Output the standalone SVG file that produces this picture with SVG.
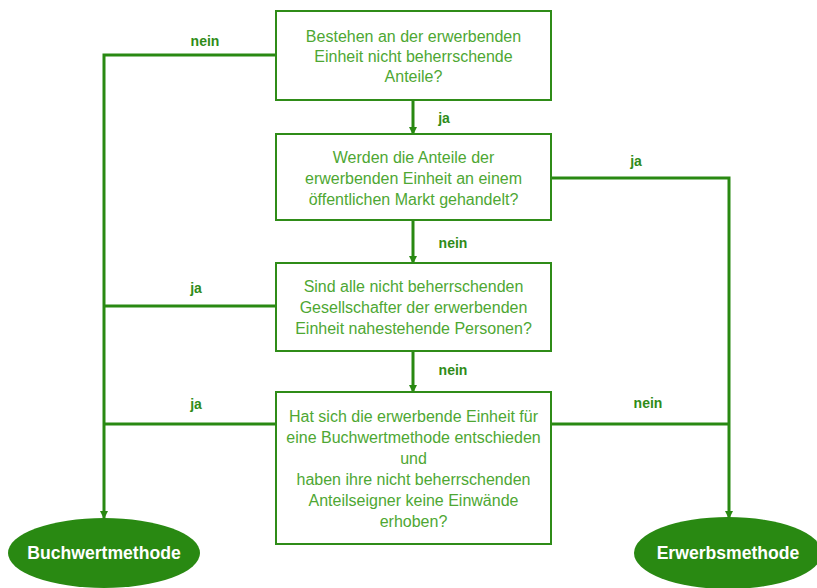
<svg xmlns="http://www.w3.org/2000/svg" width="817" height="588" viewBox="0 0 817 588">
<defs>
<style>
.box{fill:#fff;stroke:#2f8c18;stroke-width:2}
.q{font-family:"Liberation Sans",Arial,sans-serif;font-size:16px;fill:#4ea733;text-anchor:middle}
.lbl{font-family:"Liberation Sans",Arial,sans-serif;font-size:14px;font-weight:bold;fill:#2f8c18;text-anchor:middle}
.end{fill:#298912}
.et{font-family:"Liberation Sans",Arial,sans-serif;font-size:17.6px;font-weight:bold;fill:#fff;text-anchor:middle}
.c{fill:none;stroke:#298912;stroke-width:3}
</style>
<marker id="ah" viewBox="0 0 8 8" refX="7" refY="4" markerWidth="8" markerHeight="8" markerUnits="userSpaceOnUse" orient="auto">
<path d="M0,0 L8,4 L0,8 Z" fill="#298912"/>
</marker>
</defs>
<rect width="817" height="588" fill="#fff"/>
<g id="connectors">
<path class="c" d="M276,55 H104 V518" marker-end="url(#ah)"/>
<path class="c" d="M276,306 H104"/>
<path class="c" d="M276,424 H104"/>
<path class="c" d="M551,178 H729 V518" marker-end="url(#ah)"/>
<path class="c" d="M551,424 H729"/>
<path class="c" d="M413,100 V134" marker-end="url(#ah)"/>
<path class="c" d="M413,220 V263" marker-end="url(#ah)"/>
<path class="c" d="M413,351 V392" marker-end="url(#ah)"/>
<text class="lbl" x="205" y="46">nein</text>
<text class="lbl" x="444" y="123">ja</text>
<text class="lbl" x="636" y="166">ja</text>
<text class="lbl" x="453" y="248">nein</text>
<text class="lbl" x="196" y="293">ja</text>
<text class="lbl" x="453" y="375">nein</text>
<text class="lbl" x="196" y="409">ja</text>
<text class="lbl" x="648" y="408">nein</text>
</g>
<g id="q1">
<rect class="box" x="276" y="11" width="275" height="89"/>
<text class="q" x="413.5" y="42">Bestehen an der erwerbenden</text>
<text class="q" x="413.5" y="62">Einheit nicht beherrschende</text>
<text class="q" x="413.5" y="82">Anteile?</text>
</g>
<g id="q2">
<rect class="box" x="276" y="134" width="275" height="86"/>
<text class="q" x="413.5" y="163">Werden die Anteile der</text>
<text class="q" x="413.5" y="184">erwerbenden Einheit an einem</text>
<text class="q" x="413.5" y="205">öffentlichen Markt gehandelt?</text>
</g>
<g id="q3">
<rect class="box" x="276" y="263" width="275" height="88"/>
<text class="q" x="413.5" y="292">Sind alle nicht beherrschenden</text>
<text class="q" x="413.5" y="313">Gesellschafter der erwerbenden</text>
<text class="q" x="413.5" y="334">Einheit nahestehende Personen?</text>
</g>
<g id="q4">
<rect class="box" x="276" y="392" width="275" height="152"/>
<text class="q" x="413.5" y="422">Hat sich die erwerbende Einheit für</text>
<text class="q" x="413.5" y="443">eine Buchwertmethode entschieden</text>
<text class="q" x="413.5" y="464">und</text>
<text class="q" x="413.5" y="485">haben ihre nicht beherrschenden</text>
<text class="q" x="413.5" y="506">Anteilseigner keine Einwände</text>
<text class="q" x="413.5" y="527">erhoben?</text>
</g>
<g id="buchwert">
<ellipse class="end" cx="104" cy="553" rx="96" ry="35"/>
<text class="et" x="104" y="559">Buchwertmethode</text>
</g>
<g id="erwerb">
<ellipse class="end" cx="728" cy="553" rx="94" ry="36"/>
<text class="et" x="728" y="559">Erwerbsmethode</text>
</g>
</svg>
